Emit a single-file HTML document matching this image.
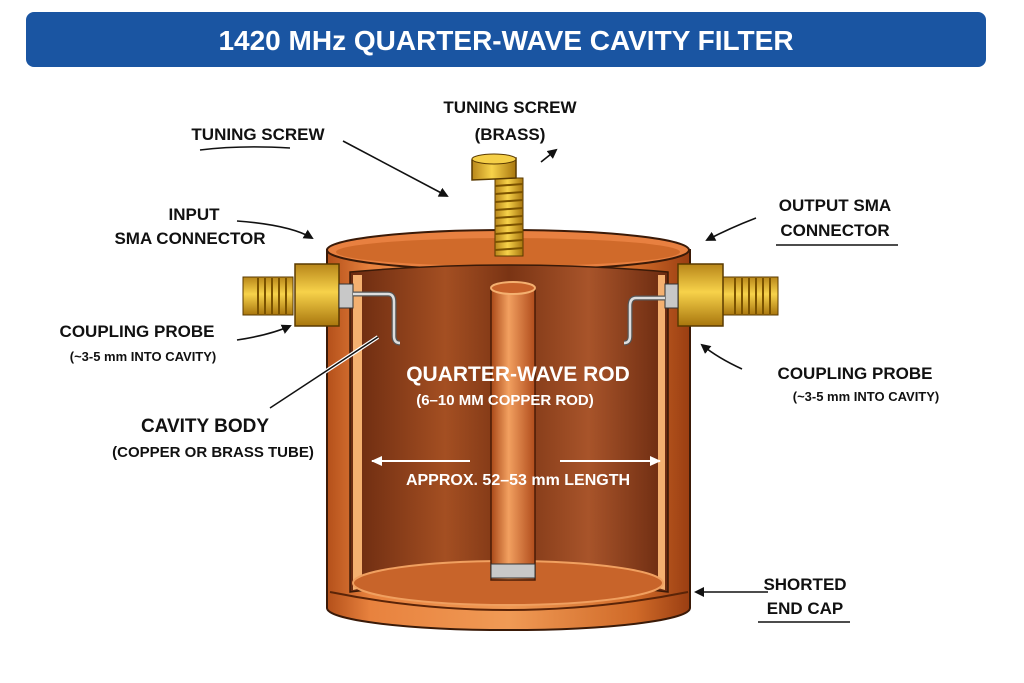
<!DOCTYPE html>
<html><head><meta charset="utf-8"><style>
html,body{margin:0;padding:0;background:#fff;}
svg{display:block;}
text{font-family:"Liberation Sans",sans-serif;font-weight:bold;fill:#111;}
</style></head><body>
<svg width="1024" height="683" viewBox="0 0 1024 683" xmlns="http://www.w3.org/2000/svg">
<defs>
<linearGradient id="body" x1="0" x2="1">
<stop offset="0" stop-color="#b4501a"/><stop offset="0.12" stop-color="#e8823e"/><stop offset="0.5" stop-color="#f09a55"/><stop offset="0.85" stop-color="#d06a28"/><stop offset="1" stop-color="#9a3e12"/></linearGradient>
<linearGradient id="inner" x1="0" x2="1">
<stop offset="0" stop-color="#6a2a10"/><stop offset="0.3" stop-color="#a44f22"/><stop offset="0.5" stop-color="#7a3414"/><stop offset="0.75" stop-color="#a8542a"/><stop offset="1" stop-color="#6a2a10"/></linearGradient>
<linearGradient id="rod" x1="0" x2="1">
<stop offset="0" stop-color="#a84818"/><stop offset="0.4" stop-color="#f2a060"/><stop offset="1" stop-color="#b04c1c"/></linearGradient>
<linearGradient id="brass" x1="0" x2="1">
<stop offset="0" stop-color="#b8861a"/><stop offset="0.45" stop-color="#f7d24a"/><stop offset="1" stop-color="#a8760e"/></linearGradient>
<linearGradient id="brassv" x1="0" y1="0" x2="0" y2="1">
<stop offset="0" stop-color="#b8861a"/><stop offset="0.45" stop-color="#f7d24a"/><stop offset="1" stop-color="#a8760e"/></linearGradient>
<marker id="ah" markerWidth="10" markerHeight="10" refX="8" refY="5" orient="auto" markerUnits="userSpaceOnUse"><path d="M0,0 L10,5 L0,10 Z" fill="#111"/></marker>
<marker id="wh" markerWidth="12" markerHeight="12" refX="10" refY="6" orient="auto" markerUnits="userSpaceOnUse"><path d="M0,1 L11,6 L0,11 Z" fill="#fff"/></marker>
</defs>
<rect x="26" y="12" width="960" height="55" rx="8" fill="#1a55a2"/>
<text x="506" y="50" text-anchor="middle" font-size="28" style="fill:#fff">1420 MHz QUARTER-WAVE CAVITY FILTER</text>

<path d="M327,250 L327,608 A181,22 0 0 0 690,608 L690,250 Z" fill="url(#body)" stroke="#3a1a08" stroke-width="2"/>
<ellipse cx="508" cy="250" rx="181" ry="20" fill="#e88040" stroke="#3a1a08" stroke-width="2"/>
<ellipse cx="508" cy="252" rx="172" ry="14" fill="#d06a2a"/>
<path d="M350,272 Q508,258 668,272 L668,592 Q508,572 350,592 Z" fill="url(#inner)" stroke="#3a1a08" stroke-width="1.5"/>
<path d="M353,275 L362,275 L362,588 L353,590 Z" fill="#f4b070"/>
<path d="M658,275 L665,275 L665,590 L658,588 Z" fill="#f4b070"/>
<ellipse cx="508" cy="583" rx="155" ry="22" fill="#c8642a" stroke="#f0a060" stroke-width="2"/>
<path d="M330,592 Q508,628 688,592" fill="none" stroke="#5a2408" stroke-width="2"/>
<rect x="491" y="288" width="44" height="292" fill="url(#rod)" stroke="#4a1c06" stroke-width="1.5"/>
<ellipse cx="513" cy="288" rx="22" ry="6" fill="#c8622a" stroke="#f4b070" stroke-width="2"/>
<rect x="491" y="564" width="44" height="14" fill="#c8c8c8" stroke="#333"/>
<rect x="495" y="178" width="28" height="78" fill="url(#brass)" stroke="#5a3a00"/>
<g stroke="#7a5200" stroke-width="2">
<line x1="495" y1="186" x2="523" y2="184"/><line x1="495" y1="194" x2="523" y2="192"/><line x1="495" y1="202" x2="523" y2="200"/><line x1="495" y1="210" x2="523" y2="208"/><line x1="495" y1="218" x2="523" y2="216"/><line x1="495" y1="226" x2="523" y2="224"/><line x1="495" y1="234" x2="523" y2="232"/><line x1="495" y1="242" x2="523" y2="240"/><line x1="495" y1="250" x2="523" y2="248"/></g>
<path d="M472,160 L516,158 L516,178 L472,180 Z" fill="url(#brass)" stroke="#5a3a00" stroke-width="1.5"/>
<ellipse cx="494" cy="159" rx="22" ry="5" fill="#f5cf48" stroke="#5a3a00"/>
<rect x="243" y="277" width="50" height="38" fill="url(#brassv)" stroke="#5a3a00"/>
<g stroke="#7a5200" stroke-width="2"><line x1="258" y1="278" x2="258" y2="314"/><line x1="265" y1="278" x2="265" y2="314"/><line x1="272" y1="278" x2="272" y2="314"/><line x1="279" y1="278" x2="279" y2="314"/><line x1="286" y1="278" x2="286" y2="314"/></g>
<rect x="295" y="264" width="44" height="62" fill="url(#brassv)" stroke="#5a3a00" stroke-width="1.5"/>
<rect x="339" y="284" width="14" height="24" fill="#c8c8c8" stroke="#333"/>
<path d="M353,294 L388,294 Q394,294 394,302 L394,336 Q394,343 400,343" fill="none" stroke="#555" stroke-width="5"/>
<path d="M353,294 L388,294 Q394,294 394,302 L394,336 Q394,343 400,343" fill="none" stroke="#ddd" stroke-width="2.5"/>
<rect x="723" y="277" width="55" height="38" fill="url(#brassv)" stroke="#5a3a00"/>
<g stroke="#7a5200" stroke-width="2"><line x1="735" y1="278" x2="735" y2="314"/><line x1="742" y1="278" x2="742" y2="314"/><line x1="749" y1="278" x2="749" y2="314"/><line x1="756" y1="278" x2="756" y2="314"/><line x1="763" y1="278" x2="763" y2="314"/><line x1="770" y1="278" x2="770" y2="314"/></g>
<rect x="678" y="264" width="45" height="62" fill="url(#brassv)" stroke="#5a3a00" stroke-width="1.5"/>
<rect x="665" y="284" width="13" height="24" fill="#c8c8c8" stroke="#333"/>
<path d="M665,298 L636,298 Q630,298 630,306 L630,336 Q630,343 624,343" fill="none" stroke="#555" stroke-width="5"/>
<path d="M665,298 L636,298 Q630,298 630,306 L630,336 Q630,343 624,343" fill="none" stroke="#ddd" stroke-width="2.5"/>

<text x="518" y="381" text-anchor="middle" font-size="21" style="fill:#fff">QUARTER-WAVE ROD</text>
<text x="505" y="405" text-anchor="middle" font-size="15" style="fill:#fff">(6–10 MM COPPER ROD)</text>
<line x1="470" y1="461" x2="372" y2="461" stroke="#fff" stroke-width="2" marker-end="url(#wh)"/>
<line x1="560" y1="461" x2="660" y2="461" stroke="#fff" stroke-width="2" marker-end="url(#wh)"/>
<text x="518" y="485" text-anchor="middle" font-size="16" style="fill:#fff">APPROX. 52–53 mm LENGTH</text>

<g font-size="17">
<text x="258" y="140" text-anchor="middle">TUNING SCREW</text>
<text x="510" y="113" text-anchor="middle">TUNING SCREW</text>
<text x="510" y="140" text-anchor="middle">(BRASS)</text>
<text x="194" y="220" text-anchor="middle">INPUT</text>
<text x="190" y="244" text-anchor="middle">SMA CONNECTOR</text>
<text x="835" y="211" text-anchor="middle">OUTPUT SMA</text>
<text x="835" y="236" text-anchor="middle">CONNECTOR</text>
<text x="137" y="337" text-anchor="middle">COUPLING PROBE</text>
<text x="855" y="379" text-anchor="middle">COUPLING PROBE</text>
<text x="205" y="432" text-anchor="middle" font-size="19">CAVITY BODY</text>
<text x="805" y="590" text-anchor="middle">SHORTED</text>
<text x="805" y="614" text-anchor="middle">END CAP</text>
</g>
<g font-size="13">
<text x="143" y="361" text-anchor="middle">(~3-5 mm INTO CAVITY)</text>
<text x="866" y="401" text-anchor="middle">(~3-5 mm INTO CAVITY)</text>
<text x="213" y="457" text-anchor="middle" font-size="15">(COPPER OR BRASS TUBE)</text>
</g>
<g stroke="#111" stroke-width="1.5" fill="none">
<path d="M200,150 Q240,145 290,148"/>
<line x1="758" y1="622" x2="850" y2="622"/>
<line x1="776" y1="245" x2="898" y2="245"/>
</g>
<g stroke="#111" stroke-width="1.6" fill="none" marker-end="url(#ah)">
<line x1="343" y1="141" x2="447" y2="196"/>
<line x1="541" y1="162" x2="556" y2="150"/>
<path d="M237,221 Q290,225 312,238"/>
<path d="M756,218 Q730,228 707,240"/>
<path d="M237,340 Q270,335 290,326"/>
<path d="M742,369 Q718,358 702,345"/>
<path d="M768,592 L696,592"/>
</g>
<line x1="270" y1="408" x2="378" y2="337" stroke="#fff" stroke-width="4"/>
<line x1="270" y1="408" x2="378" y2="337" stroke="#111" stroke-width="1.5"/>
</svg>
</body></html>
